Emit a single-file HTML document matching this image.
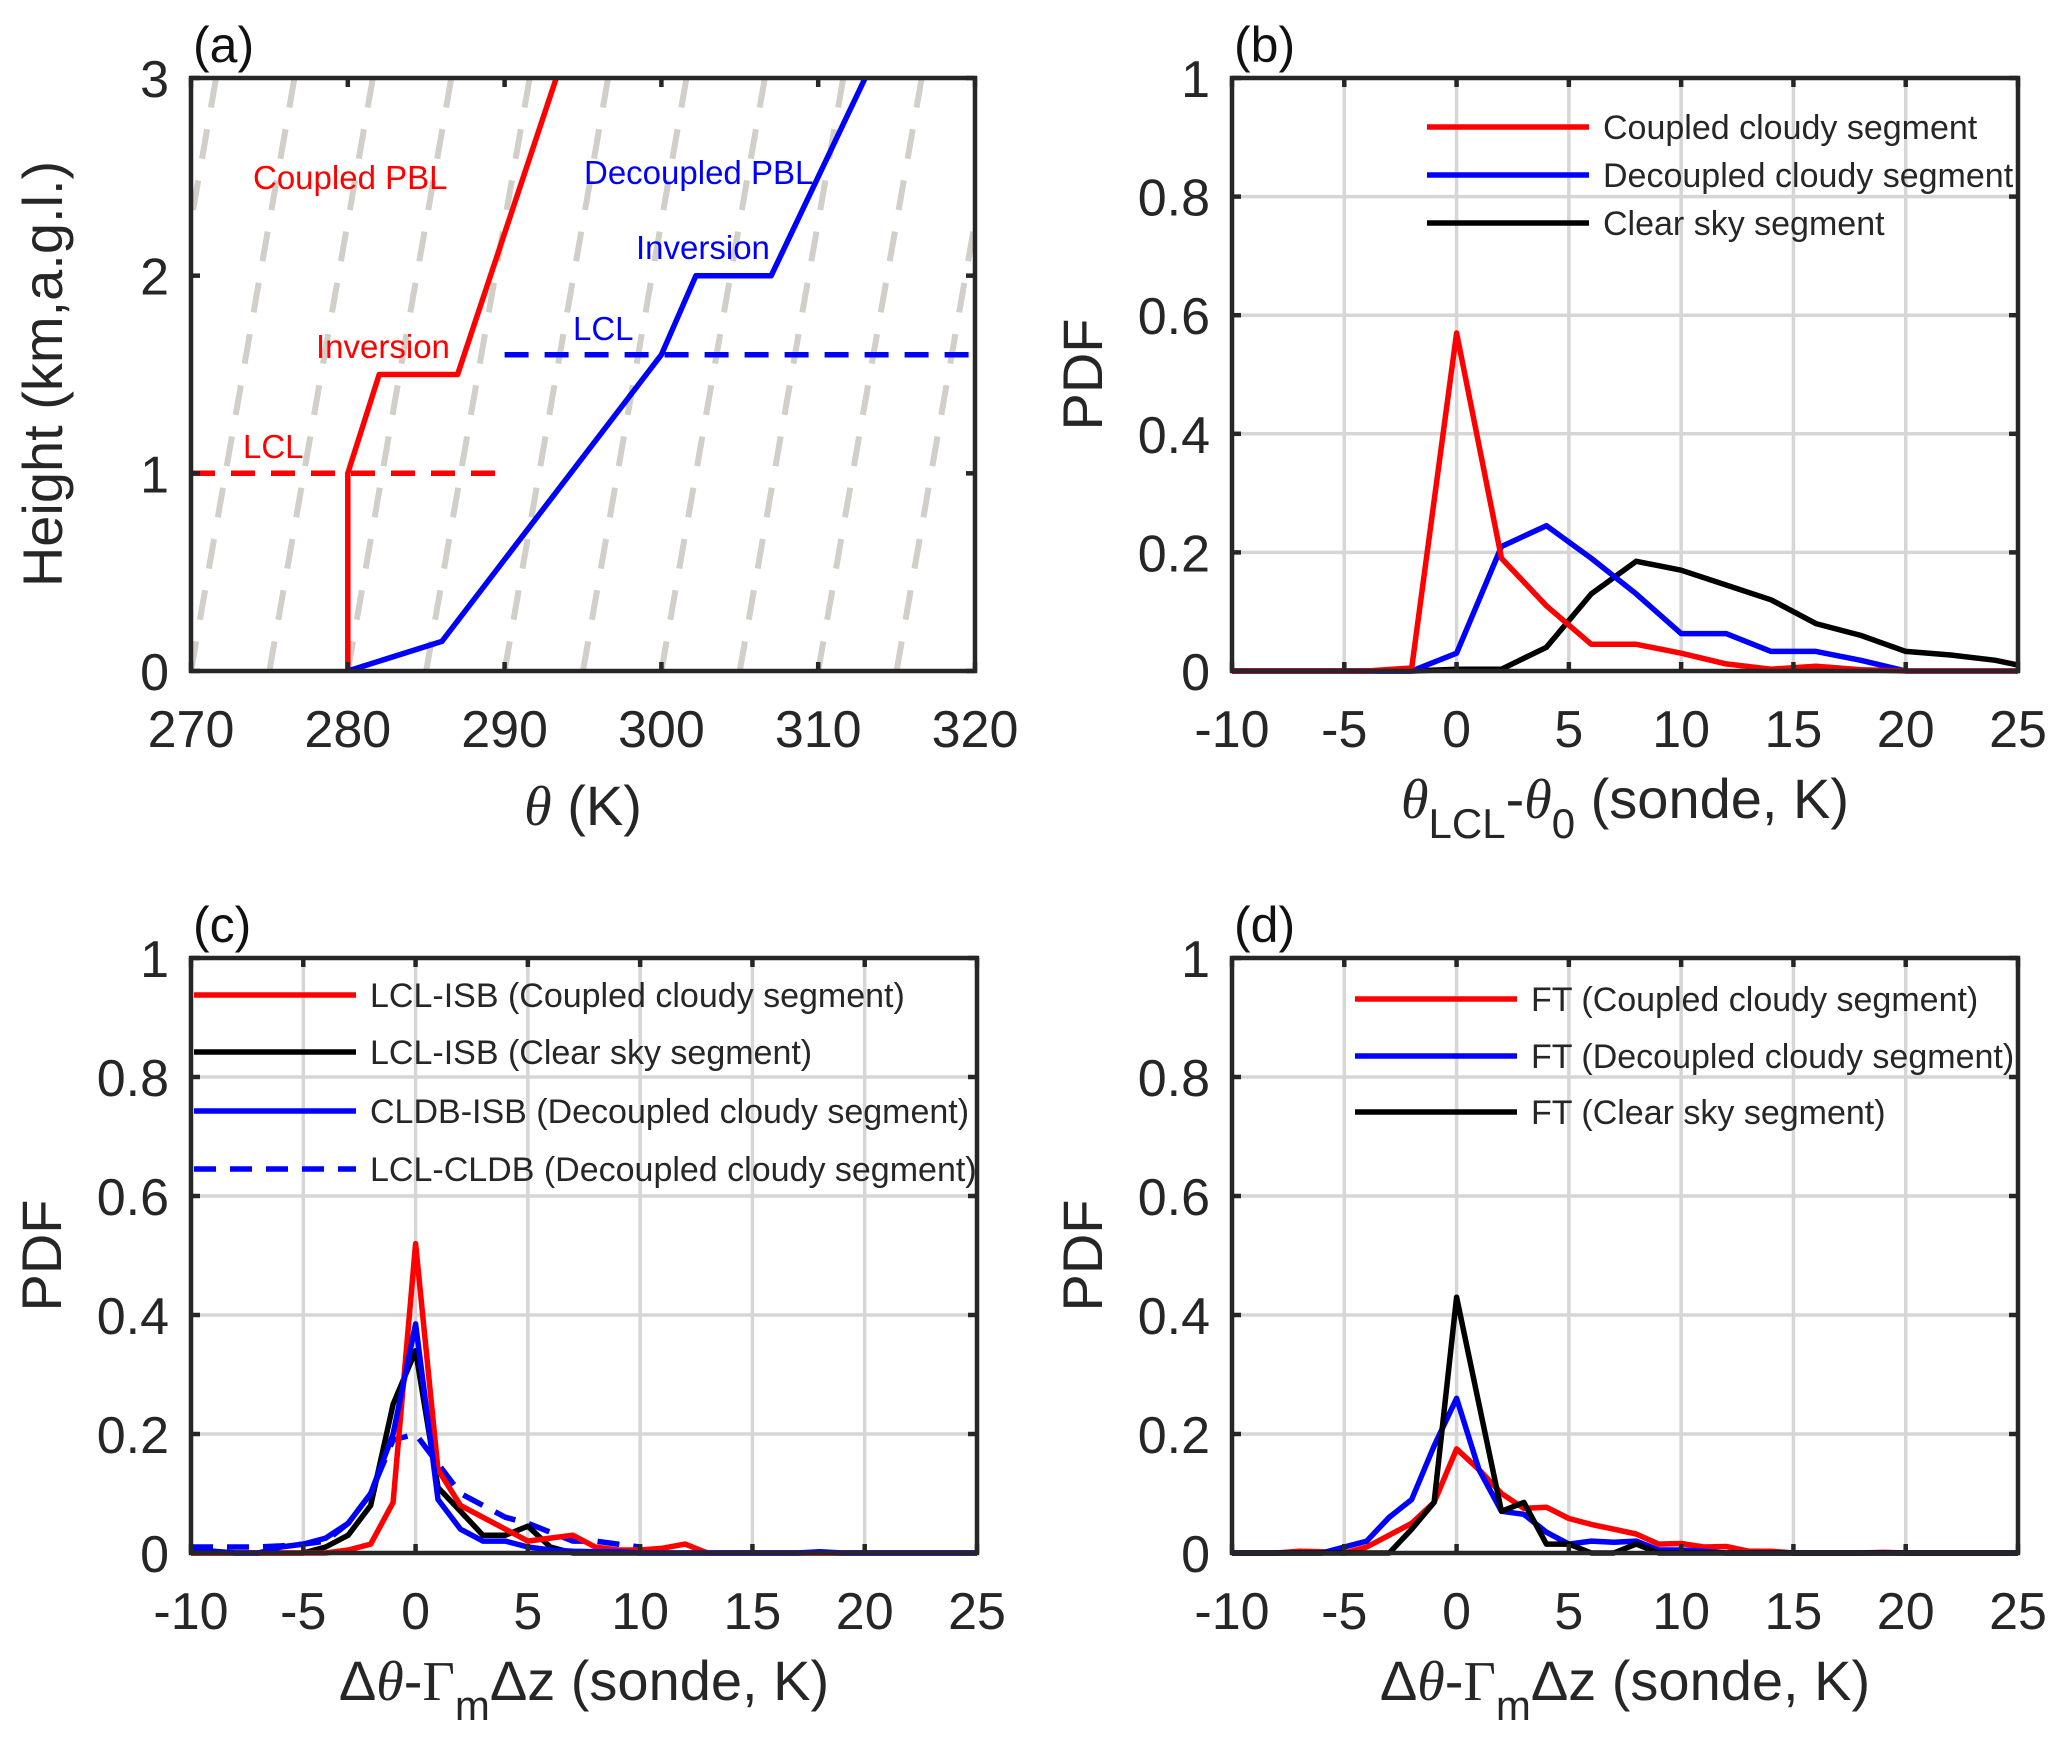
<!DOCTYPE html>
<html><head><meta charset="utf-8"><style>
html,body{margin:0;padding:0;background:#fff}
svg{display:block;font-family:"Liberation Sans",Arial,sans-serif}
</style></head><body>
<svg id="fig" width="2067" height="1752" viewBox="0 0 2067 1752" xmlns="http://www.w3.org/2000/svg"></svg>
<script>
// ---- Panel (a) data ----
const aRedX=[280,280,282,287,293.3];
const aRedY=[0,1,1.5,1.5,3];
const aBlueX=[280,286,300,302.2,307,313];
const aBlueY=[0,0.15,1.6,2,2,3];
const aAdiabatStarts=[260,265,270,275,280,285,290,295,300,305,310,315,320];
const aXTicks=[270,280,290,300,310,320];
const aYTicks=[0,1,2,3];
// ---- Panel (b) data ----
const bX=[-10,-8,-6,-4,-2,0,2,4,6,8,10,12,14,16,18,20,22,24,25];
const bRed=[0,0,0,0,0.005,0.57,0.19,0.11,0.045,0.045,0.03,0.012,0.003,0.008,0.002,0,0,0,0];
const bBlue=[0,0,0,0,0,0.03,0.21,0.245,0.19,0.13,0.063,0.063,0.033,0.033,0.018,0,0,0,0];
const bBlack=[0,0,0,0,0,0.003,0.003,0.04,0.13,0.185,0.17,0.145,0.12,0.08,0.06,0.033,0.027,0.018,0.01];
// ---- Panel (c) data ----
const cX=[-10,-9,-8,-7,-6,-5,-4,-3,-2,-1,0,1,2,3,4,5,6,7,8,9,10,11,12,13,14,15,16,17,18,19,20,21,22,23,24,25];
const cRed=[0,0,0,0,0,0,0,0.005,0.015,0.085,0.52,0.14,0.08,0.06,0.04,0.02,0.025,0.03,0.01,0.005,0.005,0.008,0.015,0,0,0,0,0,0,0,0,0,0,0,0,0];
const cBlack=[0,0,0,0,0,0,0.01,0.03,0.08,0.25,0.34,0.11,0.07,0.03,0.03,0.045,0.01,0,0,0,0,0,0,0,0,0,0,0,0,0,0,0,0,0,0,0];
const cBlue=[0.005,0.003,0,0,0.01,0.015,0.025,0.05,0.1,0.2,0.385,0.09,0.04,0.02,0.02,0.01,0.005,0.003,0.002,0.002,0,0,0,0,0,0,0,0,0.002,0,0,0,0,0,0,0];
const cBlueDash=[0.01,0.01,0.01,0.01,0.012,0.015,0.02,0.05,0.1,0.19,0.2,0.15,0.1,0.08,0.06,0.05,0.035,0.02,0.02,0.015,0.01];
// ---- Panel (d) data ----
const dX=[-10,-9,-8,-7,-6,-5,-4,-3,-2,-1,0,1,2,3,4,5,6,7,8,9,10,11,12,13,14,15,16,17,18,19,20,21,22,23,24,25];
const dRed=[0,0,0,0.003,0.002,0,0.01,0.03,0.05,0.085,0.175,0.14,0.1,0.075,0.077,0.058,0.048,0.04,0.032,0.015,0.016,0.01,0.011,0.003,0.003,0,0,0,0,0.001,0,0,0,0,0,0];
const dBlue=[0,0,0,0,0,0.01,0.02,0.06,0.09,0.18,0.26,0.14,0.07,0.065,0.035,0.015,0.02,0.018,0.02,0.005,0.005,0.003,0,0,0,0,0,0,0,0,0,0,0,0,0,0];
const dBlack=[0,0,0,0,0,0,0,0,0.04,0.085,0.43,0.25,0.07,0.085,0.015,0.015,0,0,0.015,0,0,0,0,0,0,0,0,0,0,0,0,0,0,0,0,0];
const pdfXTicks=[-10,-5,0,5,10,15,20,25];
const pdfYTicks=[0,0.2,0.4,0.6,0.8,1];
const pdfYLabels=["0","0.2","0.4","0.6","0.8","1"];

const NS="http://www.w3.org/2000/svg";
const svg=document.getElementById('fig');
function el(tag,attrs,parent){const e=document.createElementNS(NS,tag);for(const k in attrs)e.setAttribute(k,attrs[k]);(parent||svg).appendChild(e);return e;}
function txt(s,x,y,size,anchor,fill,parent){const t=el('text',{x:x,y:y,'font-size':size,'text-anchor':anchor||'middle',fill:fill||'#222'},parent);t.textContent=s;return t;}
function mkAxes(L,R,T,B,x0,x1,y0,y1){return{L,R,T,B,sx:v=>L+(v-x0)/(x1-x0)*(R-L),sy:v=>B-(v-y0)/(y1-y0)*(B-T)};}
function pts(ax,xs,ys){return xs.map((x,i)=>ax.sx(x).toFixed(1)+','+ax.sy(ys[i]).toFixed(1)).join(' ');}

function frame(g,ax,xt,yt){
  xt.forEach(v=>{const l=el('line',{x1:ax.sx(v),x2:ax.sx(v),y1:ax.T,y2:ax.B,stroke:'#d6d6d6','stroke-width':3.5},g);
    });
  yt.forEach(v=>{const l=el('line',{x1:ax.L,x2:ax.R,y1:ax.sy(v),y2:ax.sy(v),stroke:'#d6d6d6','stroke-width':3.5},g);
    });
}
function frameTop(g,ax,xt,yt,ylabels){
  const r=el('rect',{x:ax.L,y:ax.T,width:ax.R-ax.L,height:ax.B-ax.T,fill:'none',stroke:'#262626','stroke-width':4.5},g);
  
  xt.forEach(v=>{const x=ax.sx(v);
    el('line',{x1:x,x2:x,y1:ax.B,y2:ax.B-9,stroke:'#262626','stroke-width':4.5},g);
    el('line',{x1:x,x2:x,y1:ax.T,y2:ax.T+9,stroke:'#262626','stroke-width':4.5},g);
    const t=txt(String(v),x,ax.B+76,52,'middle','#262626',g);
    });
  yt.forEach((v,i)=>{const y=ax.sy(v);
    el('line',{x1:ax.L,x2:ax.L+9,y1:y,y2:y,stroke:'#262626','stroke-width':4.5},g);
    el('line',{x1:ax.R,x2:ax.R-9,y1:y,y2:y,stroke:'#262626','stroke-width':4.5},g);
    const t=txt(ylabels[i],ax.L-22,y+19,52,'end','#262626',g);
    });
}
function series(g,ax,xs,ys,color,name,dash){
  const p=el('polyline',{points:pts(ax,xs,ys),fill:'none',stroke:color,'stroke-width':5.5,'stroke-linejoin':'round'},g);
  if(dash)p.setAttribute('stroke-dasharray',dash);
  
}
function legend(g,x,ys,items){
  items.forEach((it,i)=>{
    const l=el('line',{x1:x,x2:x+162,y1:ys[i],y2:ys[i],stroke:it[1],'stroke-width':5.5},g);
    if(it[2])l.setAttribute('stroke-dasharray','22,14');
    
    const t=txt(it[0],x+176,ys[i]+12,34,'start','#262626',g);
    
  });
}
function panelG(name){const g=el('g',{});return g;}

// ===== Panel (a) =====
{
const g=panelG('panel-a');
const ax=mkAxes(191,975,78,671,270,320,0,3);
const clip=el('clipPath',{id:'ca'},g);el('rect',{x:ax.L,y:ax.T,width:ax.R-ax.L,height:ax.B-ax.T},clip);
const gc=el('g',{'clip-path':'url(#ca)'},g);
aAdiabatStarts.forEach(s=>{const l=el('line',{x1:ax.sx(s),y1:ax.sy(0),x2:ax.sx(s+6.6),y2:ax.sy(3),stroke:'#d2cec8','stroke-width':6,'stroke-dasharray':'30,22'},gc);
  });
series(gc,ax,[270,290],[1,1],'#ff0000','red-lcl-line','24,16');
series(gc,ax,[290,320],[1.6,1.6],'#0000ff','blue-lcl-line','24,16');
series(gc,ax,aRedX,aRedY,'#ff0000','coupled-profile');
series(gc,ax,aBlueX,aBlueY,'#0000ff','decoupled-profile');
frameTop(g,ax,aXTicks,aYTicks,aYTicks.map(String));
[['Coupled PBL',253,189,'#ff0000'],['Decoupled PBL',584,184,'#0000ff'],['Inversion',636,259,'#0000ff'],['LCL',573,340,'#0000ff'],['Inversion',316,358,'#ff0000'],['LCL',243,458,'#ff0000']].forEach(a=>{
  const t=txt(a[0],a[1],a[2],33,'start',a[3],g);});
let t=txt('(a)',193,62,50,'start','#111',g);
t=el('text',{x:583,y:825,'font-size':56,'text-anchor':'middle',fill:'#262626'},g);
t.innerHTML='<tspan font-style="italic" font-family="Liberation Serif">θ</tspan> (K)';

t=txt('Height (km,a.g.l.)',0,0,56,'middle','#262626',g);t.setAttribute('transform','translate(62,374) rotate(-90)');

}
// ===== PDF panels =====
function pdfPanel(name,label,L,T,B,drawSeries,xtitle){
  const g=panelG(name);
  const ax=mkAxes(L,L+786,T,B,-10,25,0,1);
  frame(g,ax,pdfXTicks,pdfYTicks);
  drawSeries(g,ax);
  frameTop(g,ax,pdfXTicks,pdfYTicks,pdfYLabels);
  let t=txt(label,L+2,T-16,50,'start','#111',g);
  t=txt('PDF',0,0,56,'middle','#262626',g);t.setAttribute('transform','translate('+(L-130)+','+((T+B)/2)+') rotate(-90)');
  
  t=el('text',{x:L+393,y:B+147,'font-size':56,'text-anchor':'middle',fill:'#262626'},g);t.innerHTML=xtitle;
  
  return g;
}
const dzTitle='Δ<tspan font-style="italic" font-family="Liberation Serif">θ</tspan>-<tspan font-family="Liberation Serif">Γ</tspan><tspan font-size="42" dy="20">m</tspan><tspan dy="-20">Δz (sonde, K)</tspan>';
{
const g=pdfPanel('panel-b','(b)',1232,78,671,(g,ax)=>{
  series(g,ax,bX,bBlack,'#000000','clear-sky-line');
  series(g,ax,bX,bBlue,'#0000ff','decoupled-line');
  series(g,ax,bX,bRed,'#ff0000','coupled-line');
},'<tspan font-style="italic" font-family="Liberation Serif">θ</tspan><tspan font-size="42" dy="20">LCL</tspan><tspan dy="-20">-</tspan><tspan font-style="italic" font-family="Liberation Serif">θ</tspan><tspan font-size="42" dy="20">0</tspan><tspan dy="-20"> (sonde, K)</tspan>');
legend(g,1427,[127,175,223],[['Coupled cloudy segment','#ff0000'],['Decoupled cloudy segment','#0000ff'],['Clear sky segment','#000000']]);
}
{
const g=pdfPanel('panel-c','(c)',191,958,1553,(g,ax)=>{
  series(g,ax,cX.slice(0,cBlueDash.length),cBlueDash,'#0000ff','lcl-cldb-line','22,14');
  series(g,ax,cX,cBlack,'#000000','lcl-isb-clear-line');
  series(g,ax,cX,cRed,'#ff0000','lcl-isb-coupled-line');
  series(g,ax,cX,cBlue,'#0000ff','cldb-isb-line');
},dzTitle);
legend(g,194,[995,1052,1111,1169],[['LCL-ISB (Coupled cloudy segment)','#ff0000'],['LCL-ISB (Clear sky segment)','#000000'],['CLDB-ISB (Decoupled cloudy segment)','#0000ff'],['LCL-CLDB (Decoupled cloudy segment)','#0000ff',true]]);
}
{
const g=pdfPanel('panel-d','(d)',1232,958,1553,(g,ax)=>{
  series(g,ax,dX,dRed,'#ff0000','ft-coupled-line');
  series(g,ax,dX,dBlue,'#0000ff','ft-decoupled-line');
  series(g,ax,dX,dBlack,'#000000','ft-clear-line');
},dzTitle);
legend(g,1355,[999,1056,1112],[['FT (Coupled cloudy segment)','#ff0000'],['FT (Decoupled cloudy segment)','#0000ff'],['FT (Clear sky segment)','#000000']]);
}
</script>
</body></html>
